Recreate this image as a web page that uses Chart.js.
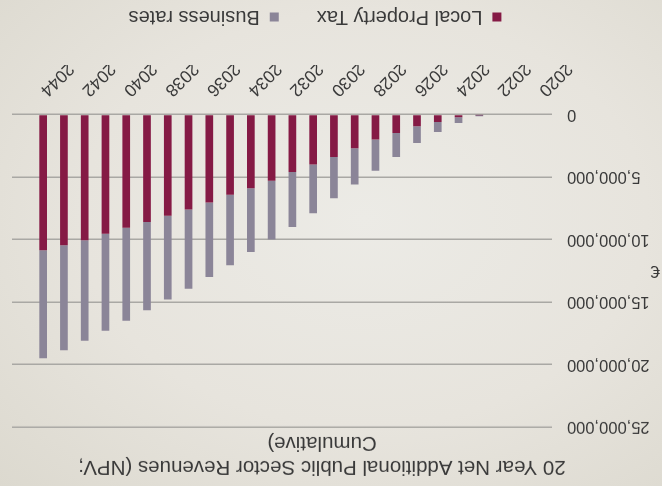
<!DOCTYPE html>
<html>
<head>
<meta charset="utf-8">
<script src="https://cdn.jsdelivr.net/npm/chart.js@4.4.1/dist/chart.umd.min.js"></script>
<style>
  html, body { margin: 0; padding: 0; }
  body {
    width: 662px; height: 486px; overflow: hidden;
    background: radial-gradient(ellipse at 55% 45%, #ecebe6 0%, #e7e4dd 55%, #dcd9cf 100%);
  }
  /* the printed page is turned upside down */
  #wrap { width: 662px; height: 486px; transform: rotate(180deg); }
</style>
</head>
<body>
<div id="wrap"><canvas id="chart" width="662" height="486"></canvas></div>
<script>
// Cumulative net additional revenues (NPV, €) by year
const years = ['2020','2021','2022','2023','2024','2025','2026','2027','2028','2029','2030','2031','2032',
               '2033','2034','2035','2036','2037','2038','2039','2040','2041','2042','2043','2044'];
const localPropertyTax = [0, 0, 0, 20000, 220000, 600000, 950000, 1480000, 2000000, 2700000, 3400000,
                          4000000, 4600000, 5300000, 5900000, 6430000, 7040000, 7600000, 8100000,
                          8600000, 9070000, 9550000, 10060000, 10460000, 10860000];
const businessRates = [0, 0, 0, 130000, 460000, 800000, 1330000, 1920000, 2500000, 2900000, 3300000,
                       3900000, 4400000, 4700000, 5100000, 5630000, 5960000, 6350000, 6700000,
                       7060000, 7430000, 7750000, 8040000, 8400000, 8640000];
const yTicks = [0, 5000000, 10000000, 15000000, 20000000, 25000000];
const titleLines = ['20 Year Net Additional Public Sector Revenues (NPV;', 'Cumulative)'];
const yAxisTitle = '€';
const seriesNames = ['Local Property Tax', 'Business rates'];

const textColor = '#3a3a3a';
const fontFamily = '"Liberation Sans", Arial, sans-serif';

// the category axis keeps one empty slot after the last year
const axisLabels = years.concat(['']);

// horizontal "€" axis caption, centred on the plot height
const euroCaption = {
  id: 'euroCaption',
  afterDraw(chart) {
    const { ctx, chartArea } = chart;
    ctx.save();
    ctx.font = '17px ' + fontFamily;
    ctx.fillStyle = textColor;
    ctx.textAlign = 'left';
    ctx.textBaseline = 'middle';
    ctx.fillText(yAxisTitle, 2, (chartArea.top + chartArea.bottom) / 2);
    ctx.restore();
  }
};

// title and legend sit a little right of the canvas centre
const headerShift = {
  id: 'headerShift',
  afterLayout(chart) {
    if (chart.titleBlock) chart.titleBlock.left += 22;
    if (chart.legend) chart.legend.left += 36;
  }
};

new Chart(document.getElementById('chart'), {
  type: 'bar',
  data: {
    labels: axisLabels,
    datasets: [
      { label: seriesNames[0], data: localPropertyTax, backgroundColor: '#851a45',
        categoryPercentage: 1, barPercentage: 0.37 },
      { label: seriesNames[1], data: businessRates, backgroundColor: '#8b8598',
        categoryPercentage: 1, barPercentage: 0.37 }
    ]
  },
  plugins: [euroCaption, headerShift],
  options: {
    responsive: false,
    animation: false,
    devicePixelRatio: 1,
    layout: { padding: { left: 8, right: 12, top: 0, bottom: -3 } },
    plugins: {
      tooltip: { enabled: false },
      title: {
        display: true,
        text: titleLines,
        color: textColor,
        font: { family: fontFamily, size: 20.5, weight: 'normal', lineHeight: 1.15 },
        padding: { top: 8, bottom: 4 }
      },
      legend: {
        position: 'bottom',
        labels: {
          color: textColor,
          font: { family: fontFamily, size: 20 },
          boxWidth: 9,
          boxHeight: 9,
          padding: 38
        }
      }
    },
    scales: {
      x: {
        stacked: true,
        grid: { display: false },
        border: { display: false },
        afterFit(scale) { scale.height = 49.5; },
        ticks: {
          autoSkip: false,
          minRotation: 45,
          maxRotation: 45,
          padding: 6,
          color: textColor,
          font: { family: fontFamily, size: 17.5 },
          callback: (v, i) => (i % 2 === 0 ? axisLabels[i] : '')
        }
      },
      y: {
        stacked: true,
        min: yTicks[0],
        max: yTicks[yTicks.length - 1],
        afterFit(scale) { scale.width = 102; },
        afterBuildTicks(scale) { scale.ticks = yTicks.map(v => ({ value: v })); },
        border: { display: false },
        grid: { color: '#a9a8a4', lineWidth: 1.5, drawTicks: false },
        ticks: {
          padding: 15,
          color: textColor,
          font: { family: fontFamily, size: 16.5 },
          callback: v => Number(v).toLocaleString('en-US')
        }
      }
    }
  }
});
</script>
</body>
</html>
